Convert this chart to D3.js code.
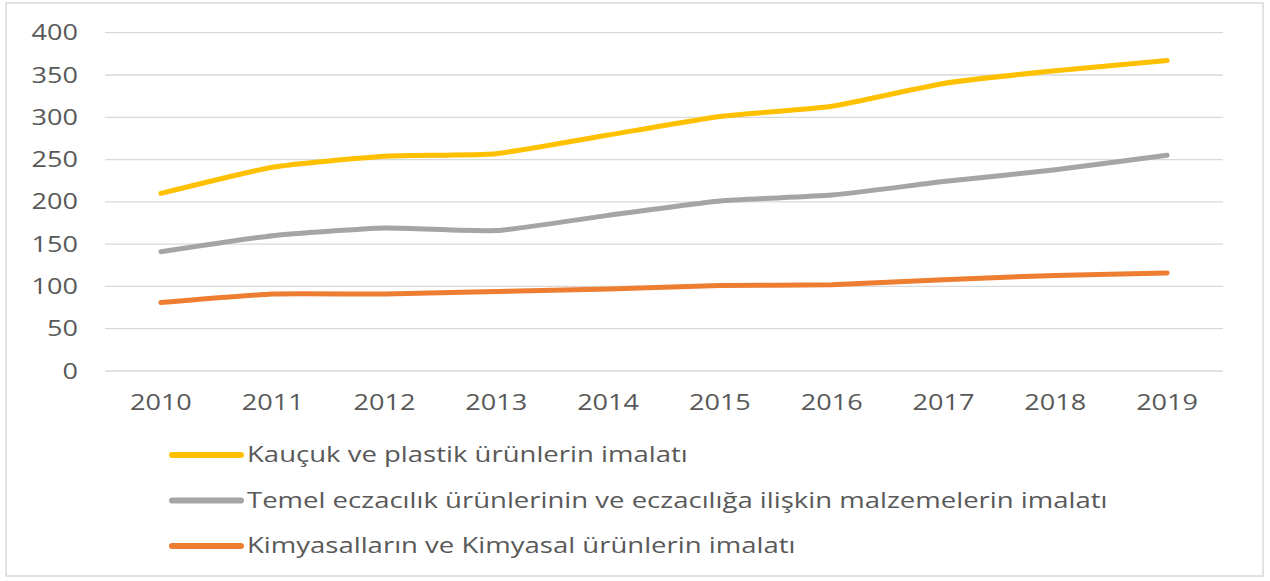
<!DOCTYPE html>
<html>
<head>
<meta charset="utf-8">
<script src="https://cdn.jsdelivr.net/npm/d3@7"></script>
<style>
  html, body { margin: 0; padding: 0; background: #fff; }
  svg { display: block; }
  text { font-family: "Open Sans", "Noto Sans", sans-serif; fill: #595959; }
</style>
</head>
<body>
<svg id="chart" width="1270" height="581"></svg>
<script>
const years = ["2010","2011","2012","2013","2014","2015","2016","2017","2018","2019"];
const yTicks = [0, 50, 100, 150, 200, 250, 300, 350, 400];
const seriesNames = [
  "Kauçuk ve plastik ürünlerin imalatı",
  "Temel eczacılık ürünlerinin ve eczacılığa ilişkin malzemelerin imalatı",
  "Kimyasalların ve Kimyasal ürünlerin imalatı"
];
const kaucuk = [210, 241, 254, 257, 279, 301, 313, 340, 355, 367];
const eczacilik = [141, 160, 169, 166, 184, 201, 208, 224, 238, 255];
const kimyasal = [81, 91, 91, 94, 97, 101, 102, 108, 113, 116];
const colors = ["#FFC000", "#A5A5A5", "#ED7D31"];

const series = [kaucuk, eczacilik, kimyasal];
const SX = 1.26;      // horizontal text stretch of the reference (axes)
const SX_LEG = 1.28;  // legend stretch

const svg = d3.select("#chart");

// outer chart border
svg.append("rect")
  .attr("x", 6).attr("y", 3).attr("width", 1257).attr("height", 573)
  .attr("fill", "#fff").attr("stroke", "#d9d9d9").attr("stroke-width", 1.5);

const x = d3.scaleBand().domain(years).range([105, 1223]);
const y = d3.scaleLinear().domain([0, 400]).range([371, 32.7]);

// gridlines
svg.append("g").selectAll("line").data(yTicks).join("line")
  .attr("x1", 105).attr("x2", 1223)
  .attr("y1", d => y(d)).attr("y2", d => y(d))
  .attr("stroke", "#d9d9d9").attr("stroke-width", 1.3);

function stretchedText(g, tx, ty, txt, anchor, sx) {
  return g.append("text")
    .attr("transform", `translate(${tx},${ty}) scale(${sx},1)`)
    .attr("text-anchor", anchor)
    .attr("font-size", 21.5)
    .text(txt);
}

// y tick labels
const ya = svg.append("g");
yTicks.forEach(t => stretchedText(ya, 78, y(t) + 7.6, String(t), "end", SX));

// x tick labels
const xa = svg.append("g");
years.forEach(yr => stretchedText(xa, x(yr) + x.bandwidth() / 2, 410, yr, "middle", SX));

// lines
const line = d3.line()
  .x((d, i) => x(years[i]) + x.bandwidth() / 2)
  .y(d => y(d))
  .curve(d3.curveCardinal.tension(0.5));

svg.append("g").selectAll("path").data(series).join("path")
  .attr("d", d => line(d))
  .attr("fill", "none")
  .attr("stroke", (d, i) => colors[i])
  .attr("stroke-width", 5)
  .attr("stroke-linecap", "round")
  .attr("stroke-linejoin", "round");

// legend
const legendY = [455, 500.5, 546];
const lg = svg.append("g");
seriesNames.forEach((name, i) => {
  lg.append("line")
    .attr("x1", 172).attr("x2", 241)
    .attr("y1", legendY[i]).attr("y2", legendY[i])
    .attr("stroke", colors[i]).attr("stroke-width", 6)
    .attr("stroke-linecap", "round");
  stretchedText(lg, 247, legendY[i] + 7.4, name, "start", SX_LEG);
});
</script>
</body>
</html>
